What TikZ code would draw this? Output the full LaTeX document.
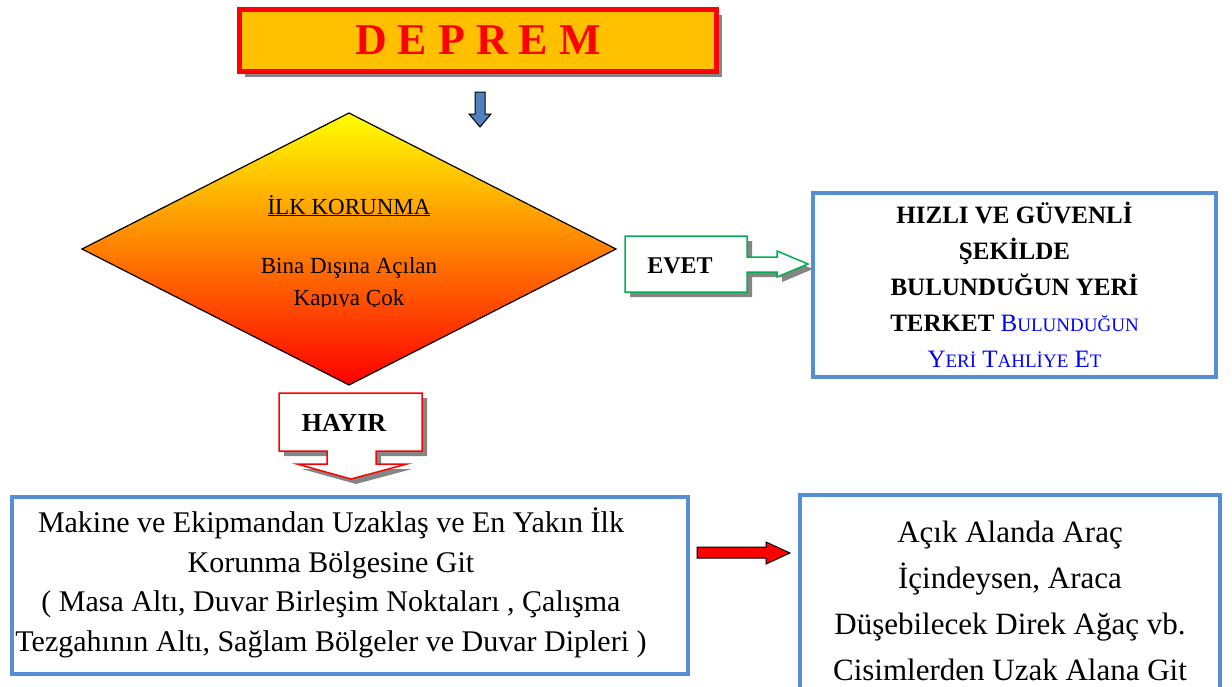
\documentclass[tikz,border=0pt]{standalone}
\usepackage{fontspec}
\setmainfont{Liberation Serif}
\usetikzlibrary{shadows}
\begin{document}
\begin{tikzpicture}[x=1pt,y=-1pt]


\newcommand{\fakesc}[2]{#1{\fontsize{19}{19}\selectfont #2}}

  \definecolor{ttlfill}{RGB}{255,192,0}
  \definecolor{boxblue}{RGB}{85,142,213}
  \definecolor{arrblue}{RGB}{79,129,189}
  \definecolor{evgreen}{RGB}{0,176,80}
  \definecolor{txtblue}{RGB}{0,0,255}
  \definecolor{dimid}{RGB}{255,200,0}

 \useasboundingbox (0,0) rectangle (1232,686);

 \coordinate (d0) at (82,249);
 \coordinate (d1) at (349,113);
 \coordinate (d2) at (616,249);
 \coordinate (d3) at (349,385);

 % arrow roots
 \coordinate (a0) at (480,92);
 \coordinate (a1) at (625,236);
 \coordinate (a2) at (279,393);
 \coordinate (a3) at (697,547);

 \tikzset{
      shdw/.style={drop shadow={shadow xshift=5pt,shadow yshift=-5pt,fill=black!48,opacity=1}},
      ttlstl/.style={draw=red,line width=5pt,fill=ttlfill,shdw,minimum width=477pt,
        minimum height=62pt,text=red,font=\fontsize{44}{44}\selectfont\bfseries},
      bluestl/.style={draw=boxblue,line width=4.5pt,fill=white},
      txtstl/.style={align=center,inner sep=0pt},
      callstl/.style={line width=1.5pt,fill=white,shdw},
    }

 \node[ttlstl] (deprem) at (478,40.5) {D E P R E M};

 \filldraw[fill=arrblue,draw=black,line width=1pt] (a0) ++(-5,0) -- ++(10,0) --
 ++(0,22) -- ++(6,0) -- ++(-11,13) -- ++(-11,-13) -- ++(6,0) -- cycle;

 \shade[top color=yellow,middle color=dimid,bottom color=red] (d0) -- (d1) -- (d2) --
 (d3) -- cycle;
 \draw[line width=1.2pt] (d0) -- (d1) -- (d2) -- (d3) -- cycle;

 \node[txtstl,font=\fontsize{23}{23}\selectfont,anchor=base] (ilk) at (349,214)
 {\underline{İLK KORUNMA}};
 \begin{scope}
  \clip (150,150) rectangle (550,306.5);
  \node[txtstl,font=\fontsize{23}{23}\selectfont,anchor=base] (bina) at (349,273)
  {Bina Dışına Açılan};
  \node[txtstl,font=\fontsize{23}{23}\selectfont,anchor=base] (kapi) at (349,305)
  {Kapıya Çok};
 \end{scope}

 \node[bluestl,minimum width=403pt,minimum height=184pt,txtstl,
 font=\fontsize{25}{36}\selectfont] (hizli) at (1014.5,285)
 {\textbf{HIZLI VE GÜVENLİ}\\\textbf{ŞEKİLDE}\\\textbf{BULUNDUĞUN YERİ}\\
 \textbf{TERKET} \textcolor{txtblue}{\fakesc{B}{ULUNDUĞUN}}\\
 \textcolor{txtblue}{\fakesc{Y}{ERİ} \fakesc{T}{AHLİYE} \fakesc{E}{T}}};

 \draw[callstl,draw=evgreen] (a1) -- ++(122,0) -- ++(0,21) -- ++(30,0) -- ++(0,-6) --
 ++(31,13) -- ++(-31,13) -- ++(0,-5) -- ++(-30,0) -- ++(0,20) -- ++(-122,0) -- cycle;
 \node[txtstl,font=\fontsize{24}{24}\selectfont\bfseries,anchor=base] (evet) at (680,273) {EVET};

 \draw[callstl,draw=red] (a2) -- ++(143,0) -- ++(0,58) -- ++(-46,0) -- ++(0,13) --
 ++(31,0) -- ++(-56,15) -- ++(-54,-15) -- ++(30,0) -- ++(0,-13) -- ++(-48,0) -- cycle;
 \node[txtstl,font=\fontsize{26}{26}\selectfont\bfseries,anchor=base] (hayir) at (344,431) {HAYIR};

 \node[bluestl,minimum width=676pt,minimum height=177pt] (makine) at (350,585.5) {};
 \node[txtstl,font=\fontsize{30}{39.5}\selectfont] (maktxt) at (331,583)
 {Makine ve Ekipmandan Uzaklaş ve En Yakın İlk\\Korunma Bölgesine Git\\
 ( Masa Altı, Duvar Birleşim Noktaları , Çalışma\\
 Tezgahının Altı, Sağlam Bölgeler ve Duvar Dipleri )};

 \node[bluestl,minimum width=420pt,minimum height=220pt] (acik) at (1010,605) {};
 \node[txtstl,font=\fontsize{31}{46}\selectfont] (aciktxt) at (1010,601)
 {Açık Alanda Araç\\İçindeysen, Araca\\Düşebilecek Direk Ağaç vb.\\
 Cisimlerden Uzak Alana Git};

 \filldraw[fill=red,draw=black,line width=1pt] (a3) -- ++(69,0) -- ++(0,-5) --
 ++(24,11) -- ++(-24,11) -- ++(0,-6) -- ++(-69,0) -- cycle;
\end{tikzpicture}
\end{document}
